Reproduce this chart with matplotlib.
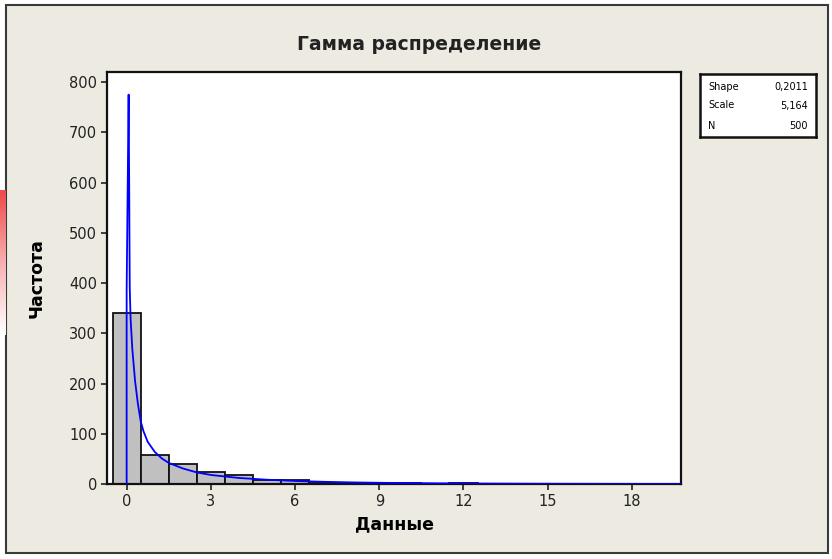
import numpy as np
import matplotlib.pyplot as plt
from matplotlib.patches import Rectangle
from matplotlib.colors import LinearSegmentedColormap

plt.rcParams['font.family'] = ['DejaVu Sans']

# гистограмма: центры интервалов (ширина 1) и частоты
bin_centers = [0, 1, 2, 3, 4, 5, 6, 7, 8, 9, 10, 11, 12]
counts = [340, 58, 40, 24, 17, 7, 8, 2, 1, 1, 1, 0, 1]

# подогнанная кривая гамма-распределения
curve_x = [0.0, 0.0, 0.07, 0.09, 0.11, 0.14, 0.2, 0.3, 0.4, 0.5, 0.6, 0.75,
           1.0, 1.25, 1.5, 2.0, 2.5, 3.0, 4.0, 5.0, 6.0, 7.0, 8.0, 9.0,
           10.0, 12.0, 14.0, 16.0, 18.0, 19.75]
curve_y = [0, 385, 775, 600, 390, 330, 270, 205, 160, 125, 105, 84,
           64, 51, 42, 31, 23, 18, 12, 8.5, 6, 4.4, 3.2, 2.4,
           1.8, 1.0, 0.6, 0.35, 0.2, 0.15]

x_ticks = [0, 3, 6, 9, 12, 15, 18]
y_ticks = [0, 100, 200, 300, 400, 500, 600, 700, 800]

legend_names = ['Shape', 'Scale', 'N']
legend_values = ['0,2011', '5,164', '500']

fig = plt.figure(figsize=(8.32, 5.59), dpi=100, facecolor='white')

# фон окна Minitab с рамкой
fig.patches.append(Rectangle((6 / 832, 6 / 559), 822 / 832, 548 / 559,
                             transform=fig.transFigure, facecolor='#EDEAE1',
                             edgecolor='#3a3a3a', linewidth=1.5, zorder=-5))

# розовый кусочек фона слайда слева
grad = fig.add_axes([0, 1 - 335 / 559, 6 / 832, 145 / 559])
pink = LinearSegmentedColormap.from_list('pink', ['#ffffff', '#f8b0b0', '#ee4a4a'])
g = np.linspace(1, 0, 60).reshape(-1, 1)
grad.imshow(g, aspect='auto', cmap=pink, vmin=0, vmax=1)
grad.axis('off')

ax = fig.add_axes([107 / 832, 1 - 484 / 559, 574 / 832, 412 / 559])
ax.set_facecolor('white')

ax.bar(bin_centers, counts, width=1.0, color='#C0C0C0', edgecolor='#111111',
       linewidth=1.3, zorder=2)
ax.plot(curve_x, curve_y, color='#0000FF', linewidth=1.3, zorder=3)

ax.set_xlim(-0.7, 19.75)
ax.set_ylim(0, 820)
ax.set_xticks(x_ticks)
ax.set_yticks(y_ticks)
ax.tick_params(direction='out', length=4, width=1.2, labelsize=10.5,
               colors='#222222', pad=3)
for s in ax.spines.values():
    s.set_linewidth(1.6)
    s.set_color('#111111')

ax.set_xlabel('Данные', fontsize=12.5, fontweight='bold', labelpad=5)
ax.set_ylabel('Частота', fontsize=12.5, fontweight='bold', labelpad=17)
fig.text(419 / 832, 1 - 45 / 559, 'Гамма распределение', ha='center',
         va='center', fontsize=13.5, fontweight='bold', color='#222222')

# табличка с параметрами
lax = fig.add_axes([700 / 832, 1 - 137 / 559, 116 / 832, 63 / 559])
lax.set_xticks([])
lax.set_yticks([])
for s in lax.spines.values():
    s.set_linewidth(1.8)
    s.set_color('#111111')
row_y = [0.80, 0.50, 0.18]
for n, v, yy in zip(legend_names, legend_values, row_y):
    lax.text(0.07, yy, n, fontsize=7, va='center', ha='left', transform=lax.transAxes)
    lax.text(0.93, yy, v, fontsize=7, va='center', ha='right', transform=lax.transAxes)

fig.savefig('out.png', dpi=100, facecolor=fig.get_facecolor())
